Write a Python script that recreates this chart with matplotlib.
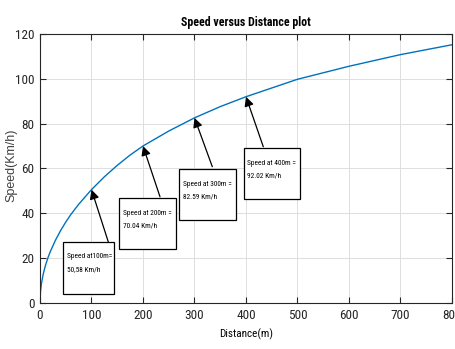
import matplotlib
matplotlib.use("Agg")
from matplotlib import pyplot as plt
from matplotlib import font_manager
from matplotlib.patches import Rectangle

# values
distance = [0, 1, 3, 6, 10, 15, 20, 30, 40, 50, 60, 75, 100, 125, 150, 175, 200,
            250, 300, 350, 400, 500, 600, 700, 800]
speed = [0, 5.2, 8.9, 12.6, 16.3, 19.9, 22.9, 28.0, 32.3, 36.1, 39.5, 44.0, 50.58,
         56.3, 61.4, 66.0, 70.04, 76.7, 82.59, 87.6, 92.02, 99.8, 105.6, 110.8, 115.2]

marked_d = [100, 200, 300, 400]
marked_v = [50.58, 70.04, 82.59, 92.02]
labels = ["Speed at100m=\n50,58 Km/h", "Speed at 200m =\n70.04 Km/h",
          "Speed at 300m =\n82.59 Km/h", "Speed at 400m =\n92.02 Km/h"]

# pick a narrow face if one is installed
installed = {f.name for f in font_manager.fontManager.ttflist}
narrow = "Liberation Sans"
for cand in ["Liberation Sans Narrow", "Roboto Condensed", "Open Sans Condensed",
             "DejaVu Sans Condensed"]:
    if cand in installed:
        narrow = cand
        break
is_narrow = narrow != "Liberation Sans"
k = 1.0 if is_narrow else 0.85
fam = [narrow, "DejaVu Sans"]

fig = plt.figure(figsize=(4.56, 3.49), dpi=100)
ax = fig.add_axes([0.0877, 0.1318, 0.9035, 0.7708])

ax.plot(distance, speed, color="#0072BD", lw=1.0)

# text boxes: (x0, y0, x1, y1) in data units, text anchor, arrow tail
boxes = [(44.7, 4.0, 143.7, 27.2), (154, 24.1, 263.5, 47), (270.5, 37, 380, 59.8), (396, 46.3, 505, 69.3)]
text_xy = [(53, 17.8), (161.8, 37.0), (278, 50.2), (401, 59.5)]
tails = [(132.6, 27.3), (233, 47.4), (334.6, 60.8), (433.6, 69.7)]

for (x0, y0, x1, y1), (tx, ty), (ax_, ay_), d, v, lab in zip(boxes, text_xy, tails, marked_d, marked_v, labels):
    ax.add_patch(Rectangle((x0, y0), x1 - x0, y1 - y0, fill=True, facecolor="white",
                           edgecolor="black", lw=0.9, zorder=3))
    ax.text(tx, ty, lab, fontsize=5.3 * k, family=fam, va="center", ha="left",
            linespacing=2.1, zorder=4)
    ax.annotate("", xy=(d, v), xytext=(ax_, ay_),
                arrowprops=dict(arrowstyle="-|>", color="black", lw=0.9,
                                mutation_scale=14, shrinkA=0, shrinkB=0),
                zorder=4)

ax.set_xlim(0, 800)
ax.set_ylim(0, 120)
ax.set_xticks(range(0, 801, 100))
ax.set_yticks(range(0, 121, 20))
ax.grid(True, color="#dedede", lw=0.7)
ax.set_axisbelow(True)
ax.tick_params(direction="in", top=True, right=True, length=4, width=0.8,
               labelsize=9.5 * k, colors="#262626", pad=4)
for lab in ax.get_xticklabels() + ax.get_yticklabels():
    lab.set_family(fam)
    lab.set_color("#262626")
for s in ax.spines.values():
    s.set_color("#262626")
    s.set_linewidth(0.8)

ax.set_title("Speed versus Distance plot", fontsize=8.6 * k, fontweight="bold",
             family=fam, pad=6)
ax.set_xlabel("Distance(m)", fontsize=8 * k, family=fam, labelpad=5)
ax.set_ylabel("Speed(Km/h)", fontsize=9, family=["Liberation Sans", "DejaVu Sans"],
              color="#404040")
ax.yaxis.set_label_coords(-0.054, 0.51)

fig.savefig("out.png", dpi=100)
